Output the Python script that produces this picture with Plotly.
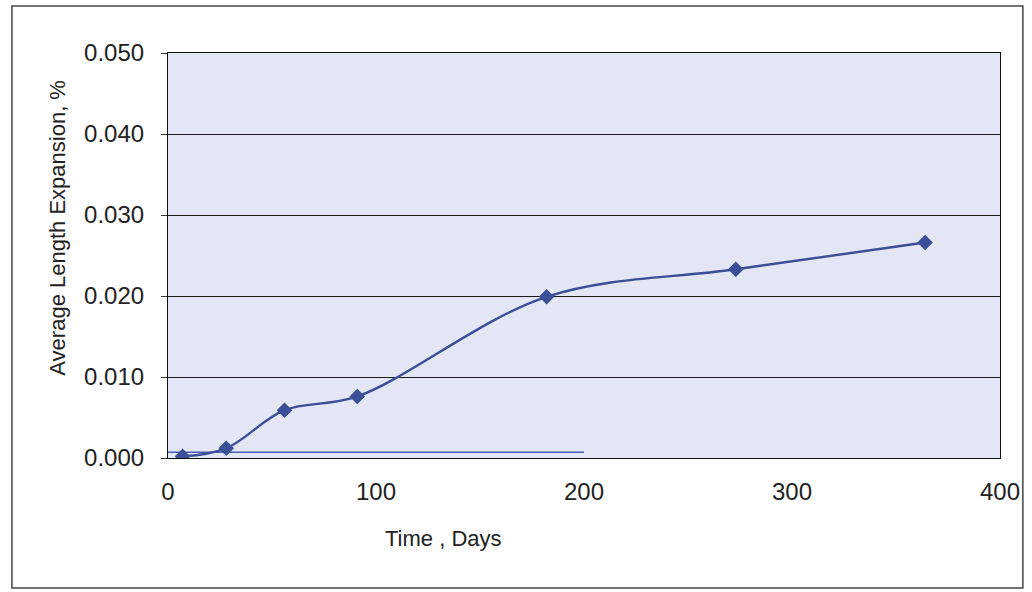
import plotly.graph_objects as go

# Data
days = [7, 28, 56, 91, 182, 273, 364]
expansion = [0.0002, 0.0012, 0.0059, 0.0076, 0.0199, 0.0233, 0.0266]

# faint horizontal blue line near zero (as drawn in reference)
ref_days = [0, 200]
ref_level = [0.0007, 0.0007]

x_ticks = [0, 100, 200, 300, 400]
y_ticks = [0.0, 0.01, 0.02, 0.03, 0.04, 0.05]
y_tick_labels = ["0.000", "0.010", "0.020", "0.030", "0.040", "0.050"]

line_color = "#3b4e98"
text_color = "#222222"
font_family = "Liberation Sans, Arial, sans-serif"

W, H = 1032, 592
pl, pr, pt, pb = 168, 1005, 53, 458
pw, ph = pr - pl, pb - pt


def px(x):
    return (x - pl) / pw


def py(y):
    return (pb - y) / ph


fig = go.Figure()
fig.add_trace(go.Scatter(
    x=ref_days, y=ref_level, mode="lines",
    line=dict(color="#4a5fb0", width=1.5),
    showlegend=False, hoverinfo="skip",
))
fig.add_trace(go.Scatter(
    x=days, y=expansion, mode="lines+markers",
    line=dict(color=line_color, width=2.4, shape="spline", smoothing=1.0),
    marker=dict(symbol="diamond", size=12, color=line_color),
    showlegend=False,
))

fig.update_layout(
    width=W, height=H,
    margin=dict(l=pl, r=W - pr, t=pt, b=H - pb),
    paper_bgcolor="white",
    plot_bgcolor="#e3e6f5",
    font=dict(family=font_family, color=text_color),
    xaxis=dict(
        range=[0, 400], tickmode="array", tickvals=x_ticks,
        ticktext=[str(v) for v in x_ticks],
        tickfont=dict(size=24, color=text_color),
        showgrid=False, zeroline=False,
        showline=True, linecolor="#111111", linewidth=1.2, mirror=True,
        ticks="", ticklabelstandoff=12, ticklabeloverflow="allow",
    ),
    yaxis=dict(
        range=[0, 0.05], tickmode="array", tickvals=y_ticks,
        ticktext=y_tick_labels,
        tickfont=dict(size=24, color=text_color),
        showgrid=True, gridcolor="#1a1a1a", gridwidth=1,
        zeroline=False,
        showline=True, linecolor="#111111", linewidth=1.2, mirror=True,
        ticks="outside", ticklen=6, tickcolor="#333333",
        ticklabelstandoff=12, ticklabeloverflow="allow",
    ),
    annotations=[
        dict(text="Time , Days", xref="paper", yref="paper",
             x=px(445), y=py(538), xanchor="center", yanchor="middle",
             showarrow=False, font=dict(size=22, color=text_color)),
        dict(text="Average Length Expansion, %", xref="paper", yref="paper",
             x=px(56), y=py(228), xanchor="center", yanchor="middle",
             textangle=-90, showarrow=False,
             font=dict(size=22, color=text_color)),
    ],
    shapes=[
        dict(type="rect", xref="paper", yref="paper",
             x0=px(11), x1=px(1028), y0=py(588), y1=py(6),
             line=dict(color="#444444", width=1.5), fillcolor="rgba(0,0,0,0)",
             layer="below"),
    ],
)

# remove the default 8px page margin so the 1032x592 figure fills the window
fig.write_html(
    "out.html",
    config={"displayModeBar": False},
    post_script="document.body.style.margin='0px';document.body.style.overflow='hidden';",
)
